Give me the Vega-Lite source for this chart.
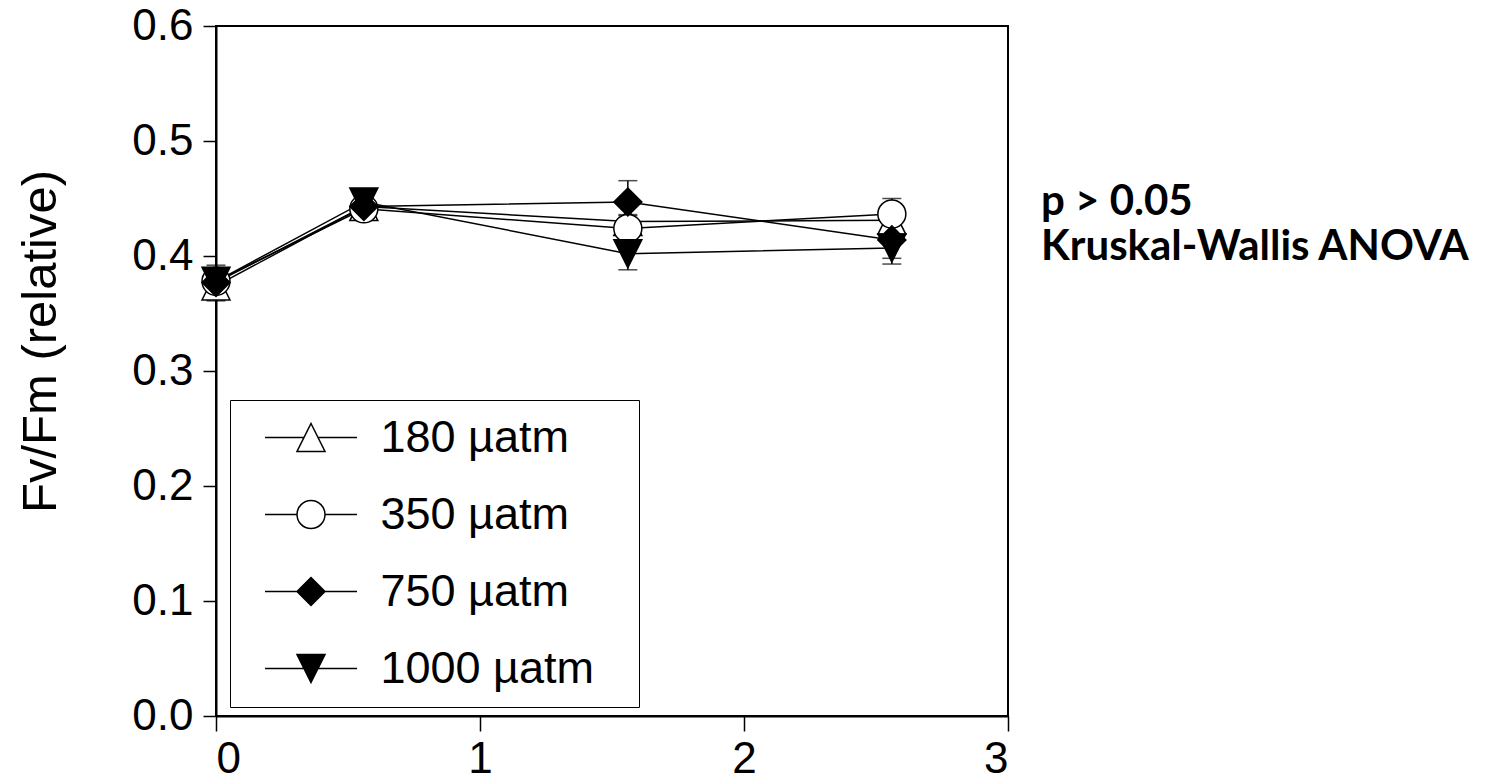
{
  "$schema": "https://vega.github.io/schema/vega-lite/v6.json",
  "width": 792,
  "height": 690,
  "autosize": {"type": "none"},
  "padding": {"left": 216, "top": 26, "right": 487, "bottom": 62},
  "background": "white",
  "config": {
    "font": "Liberation Sans",
    "view": {"stroke": "black", "strokeWidth": 2},
    "axis": {
      "domainColor": "black", "domainWidth": 2,
      "tickColor": "black", "tickWidth": 1.5,
      "labelColor": "black", "labelFont": "Liberation Sans", "labelFontSize": 44,
      "grid": false,
      "titleColor": "black", "titleFont": "Liberation Sans", "titleFontWeight": "normal"
    }
  },
  "datasets": {
    "fv": [
      {"x": 0, "g": "180 µatm", "y": 0.374, "lo": 0.361, "hi": 0.387},
      {"x": 0, "g": "350 µatm", "y": 0.378, "lo": 0.366, "hi": 0.389},
      {"x": 0, "g": "750 µatm", "y": 0.377, "lo": 0.367, "hi": 0.390},
      {"x": 0, "g": "1000 µatm", "y": 0.378, "lo": 0.365, "hi": 0.392},
      {"x": 0.56, "g": "180 µatm", "y": 0.443, "lo": 0.438, "hi": 0.448},
      {"x": 0.56, "g": "350 µatm", "y": 0.441, "lo": 0.436, "hi": 0.446},
      {"x": 0.56, "g": "750 µatm", "y": 0.443, "lo": 0.438, "hi": 0.448},
      {"x": 0.56, "g": "1000 µatm", "y": 0.447, "lo": 0.442, "hi": 0.452},
      {"x": 1.56, "g": "180 µatm", "y": 0.430, "lo": 0.424, "hi": 0.436},
      {"x": 1.56, "g": "350 µatm", "y": 0.424, "lo": 0.413, "hi": 0.435},
      {"x": 1.56, "g": "750 µatm", "y": 0.447, "lo": 0.428, "hi": 0.4655},
      {"x": 1.56, "g": "1000 µatm", "y": 0.402, "lo": 0.388, "hi": 0.416},
      {"x": 2.56, "g": "180 µatm", "y": 0.431, "lo": 0.423, "hi": 0.439},
      {"x": 2.56, "g": "350 µatm", "y": 0.4365, "lo": 0.423, "hi": 0.450},
      {"x": 2.56, "g": "750 µatm", "y": 0.414, "lo": 0.398, "hi": 0.430},
      {"x": 2.56, "g": "1000 µatm", "y": 0.407, "lo": 0.393, "hi": 0.421}
    ],
    "notes": [
      {"x": 3.125, "y": 0.4357, "t": "p > 0.05"},
      {"x": 3.125, "y": 0.3965, "t": "Kruskal-Wallis ANOVA"}
    ]
  },
  "data": {"name": "fv"},
  "layer": [
    {
      "mark": {"type": "errorbar", "ticks": {"size": 19, "thickness": 1.5, "color": "black"}, "rule": {"strokeWidth": 1.5, "color": "black"}},
      "encoding": {
        "x": {"field": "x", "type": "quantitative", "scale": {"domain": [0, 3], "nice": false}, "axis": {"values": [0, 1, 2, 3], "format": "d", "tickSize": 15, "labelPadding": 6, "title": null}},
        "y": {"field": "lo", "type": "quantitative", "scale": {"domain": [0, 0.6], "nice": false}, "axis": {"values": [0, 0.1, 0.2, 0.3, 0.4, 0.5, 0.6], "format": ".1f", "tickSize": 13, "labelPadding": 10, "title": "Fv/Fm (relative)", "titleFontSize": 49, "titlePadding": 66, "titleY": 315}},
        "y2": {"field": "hi"},
        "detail": {"field": "g"}
      }
    },
    {
      "mark": {"type": "line", "color": "black", "strokeWidth": 1.5},
      "encoding": {
        "x": {"field": "x", "type": "quantitative", "scale": {"domain": [0, 3], "nice": false}, "axis": {"values": [0, 1, 2, 3], "format": "d", "tickSize": 15, "labelPadding": 6, "title": null}},
        "y": {"field": "y", "type": "quantitative", "scale": {"domain": [0, 0.6], "nice": false}, "axis": {"values": [0, 0.1, 0.2, 0.3, 0.4, 0.5, 0.6], "format": ".1f", "tickSize": 13, "labelPadding": 10, "title": "Fv/Fm (relative)", "titleFontSize": 49, "titlePadding": 66, "titleY": 315}},
        "detail": {"field": "g"},
        "order": {"field": "x"}
      }
    },
    {
      "mark": {"type": "point", "filled": true, "stroke": "black", "strokeWidth": 1.5, "size": 784, "opacity": 1},
      "encoding": {
        "x": {"field": "x", "type": "quantitative", "scale": {"domain": [0, 3], "nice": false}, "axis": {"values": [0, 1, 2, 3], "format": "d", "tickSize": 15, "labelPadding": 6, "title": null}},
        "y": {"field": "y", "type": "quantitative", "scale": {"domain": [0, 0.6], "nice": false}, "axis": {"values": [0, 0.1, 0.2, 0.3, 0.4, 0.5, 0.6], "format": ".1f", "tickSize": 13, "labelPadding": 10, "title": "Fv/Fm (relative)", "titleFontSize": 49, "titlePadding": 66, "titleY": 315}},
        "shape": {"field": "g", "type": "nominal", "scale": {"domain": ["180 µatm", "350 µatm", "750 µatm", "1000 µatm"], "range": ["M0,-1L1,1L-1,1Z", "circle", "diamond", "M0,1L1,-1L-1,-1Z"]}, "legend": null},
        "fill": {"field": "g", "type": "nominal", "scale": {"domain": ["180 µatm", "350 µatm", "750 µatm", "1000 µatm"], "range": ["white", "white", "black", "black"]}, "legend": null}
      }
    },
    {
      "transform": [{"filter": "false"}],
      "mark": {"type": "point", "filled": true, "opacity": 1, "stroke": "black", "strokeWidth": 1.5},
      "encoding": {
        "shape": {
          "field": "g", "type": "nominal",
          "scale": {"domain": ["180 µatm", "350 µatm", "750 µatm", "1000 µatm"], "range": [
            "M-4.714,0M-3.286,0L-0.5,0M0.5,0L3.286,0M0,-1L1,1L-1,1ZM22.14,0",
            "M-4.714,0M-3.286,0L-1,0M1,0L3.286,0M1,0A1,1,0,1,1,-1,0A1,1,0,1,1,1,0ZM22.14,0",
            "M-4.714,0M-3.286,0L-1,0M1,0L3.286,0M0,-1L1,0L0,1L-1,0ZM22.14,0",
            "M-4.714,0M-3.286,0L-0.5,0M0.5,0L3.286,0M0,1L1,-1L-1,-1ZM22.14,0"
          ]},
          "legend": {
            "title": null, "orient": "none", "legendX": 14, "legendY": 374, "direction": "vertical",
            "padding": 15, "strokeColor": "black", "fillColor": "white",
            "labelFont": "Liberation Sans", "labelFontSize": 45, "labelColor": "black", "labelLimit": 1000,
            "symbolSize": 784, "symbolStrokeWidth": 1.5, "symbolStrokeColor": "black", "symbolFillColor": "white", "symbolOpacity": 1,
            "symbolOffset": 43.5, "labelOffset": 47, "rowPadding": 31,
            "encode": {"legend": {"strokeWidth": {"value": 2}}}
          }
        },
        "fill": {
          "field": "g", "type": "nominal",
          "scale": {"domain": ["180 µatm", "350 µatm", "750 µatm", "1000 µatm"], "range": ["white", "white", "black", "black"]},
          "legend": {
            "title": null, "orient": "none", "legendX": 14, "legendY": 374, "direction": "vertical",
            "padding": 15, "strokeColor": "black", "fillColor": "white",
            "labelFont": "Liberation Sans", "labelFontSize": 45, "labelColor": "black", "labelLimit": 1000,
            "symbolSize": 784, "symbolStrokeWidth": 1.5, "symbolStrokeColor": "black", "symbolFillColor": "white", "symbolOpacity": 1,
            "symbolOffset": 43.5, "labelOffset": 47, "rowPadding": 31,
            "encode": {"legend": {"strokeWidth": {"value": 2}}}
          }
        }
      }
    },
    {
      "data": {"name": "notes"},
      "mark": {"type": "text", "align": "left", "baseline": "alphabetic", "font": "Lato", "fontWeight": "bold", "fontSize": 42, "color": "black"},
      "encoding": {
        "x": {"field": "x", "type": "quantitative", "scale": {"domain": [0, 3], "nice": false}, "axis": {"values": [0, 1, 2, 3], "format": "d", "tickSize": 15, "labelPadding": 6, "title": null}},
        "y": {"field": "y", "type": "quantitative", "scale": {"domain": [0, 0.6], "nice": false}, "axis": {"values": [0, 0.1, 0.2, 0.3, 0.4, 0.5, 0.6], "format": ".1f", "tickSize": 13, "labelPadding": 10, "title": "Fv/Fm (relative)", "titleFontSize": 49, "titlePadding": 66, "titleY": 315}},
        "text": {"field": "t"}
      }
    }
  ],
  "resolve": {"scale": {"shape": "independent", "fill": "independent"}, "legend": {"shape": "independent", "fill": "independent"}}
}
